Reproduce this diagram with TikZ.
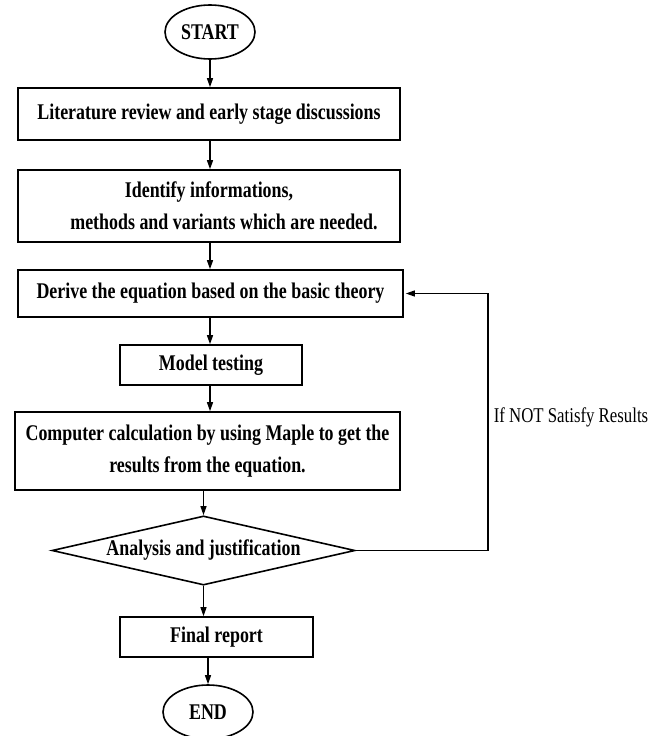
\documentclass[tikz,border=0pt]{standalone}
\usepackage{fontspec}
\setmainfont{Liberation Serif}[FakeStretch=0.8]
\usetikzlibrary{shapes.geometric,arrows.meta}
\begin{document}
\begin{tikzpicture}[x=1pt,y=-1pt,
  line width=1.6pt,
  txt/.style={font=\fontsize{22.4}{32}\selectfont\bfseries},
  box/.style={draw, txt, inner sep=0pt, align=center},
  term/.style={draw, ellipse, txt, inner sep=0pt, minimum width=90pt, minimum height=54pt},
  dec/.style={draw, diamond, txt, inner sep=0pt, aspect=4, minimum width=303pt},
  arr/.style={-{Triangle[width=6pt,length=9pt]}, line width=1.2pt}]
\useasboundingbox (0,0) rectangle (665,736);
\clip (0,0) rectangle (665,736);
\node[term] (start) at (210,32) {START};
\node[box, minimum width=382pt, minimum height=52pt] (b1) at (209,114) {Literature review and early stage discussions};
\node[box, minimum width=382pt, minimum height=72pt] (b2) at (209,206) {Identify informations,\\ \hspace*{30pt}methods and variants which are needed.};
\node[box, minimum width=385pt, minimum height=47pt] (b3) at (210.5,293.5) {Derive the equation based on the basic theory};
\node[box, minimum width=182pt, minimum height=40pt] (b4) at (211,365) {Model testing};
\node[box, minimum width=385pt, minimum height=78pt] (b5) at (207.5,451) {Computer calculation by using Maple to get the\\ results from the equation.};
\node[dec] (dia) at (203.5,550.5) {Analysis and justification};
\node[box, minimum width=193pt, minimum height=40pt] (b6) at (216.5,637) {Final report};
\node[term] (end) at (208,712) {END};
\node[font=\fontsize{21}{24}\selectfont] (lab) at (571,417) {If NOT Satisfy Results};
\coordinate (loop) at (488,550.5);
\draw[arr] (start.south) -- (start.south |- b1.north);
\draw[arr] (b1.south -| start.south) -- (start.south |- b2.north);
\draw[arr] (b2.south -| start.south) -- (start.south |- b3.north);
\draw[arr] (b3.south -| start.south) -- (start.south |- b4.north);
\draw[arr] (b4.south -| start.south) -- (start.south |- b5.north);
\draw[arr] (b5.south -| dia.north) -- (dia.north);
\draw[arr] (dia.south) -- (dia.south |- b6.north);
\draw[arr] (b6.south -| end.north) -- (end.north);
\draw[arr] (dia.east) -- (loop) |- ([xshift=2pt]b3.east);
\end{tikzpicture}
\end{document}
